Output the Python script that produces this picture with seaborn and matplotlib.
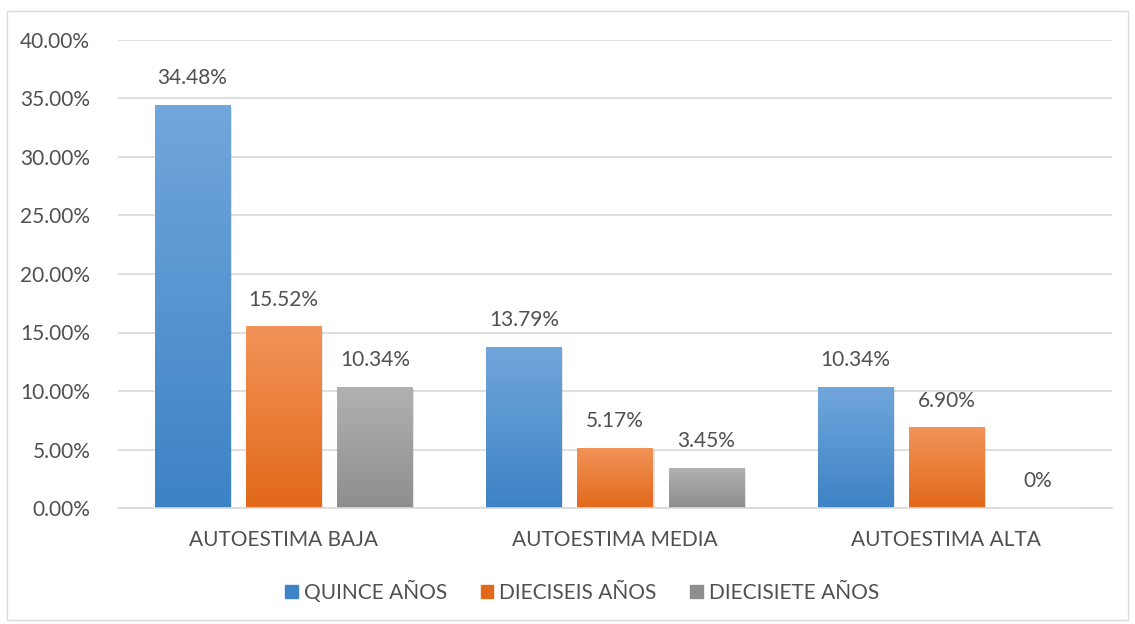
import numpy as np
import pandas as pd
import matplotlib
matplotlib.use("Agg")
import matplotlib.pyplot as plt
import seaborn as sns
from matplotlib.colors import LinearSegmentedColormap
from matplotlib.ticker import FuncFormatter, MultipleLocator

categories = ["AUTOESTIMA BAJA", "AUTOESTIMA MEDIA", "AUTOESTIMA ALTA"]
series = ["QUINCE AÑOS", "DIECISEIS AÑOS", "DIECISIETE AÑOS"]
quince = [0.3448, 0.1379, 0.1034]
dieciseis = [0.1552, 0.0517, 0.0690]
diecisiete = [0.1034, 0.0345, 0.0]
labels = [["34.48%", "13.79%", "10.34%"],
          ["15.52%", "5.17%", "6.90%"],
          ["10.34%", "3.45%", "0%"]]

# gradient ends (top, bottom) per series, Excel-like fill
grad = [("#71a6dc", "#3d83c5"), ("#f19358", "#e2691a"), ("#b1b1b1", "#8e8e8e")]

df = pd.DataFrame({
    "cat": categories * 3,
    "serie": [s for s in series for _ in categories],
    "valor": quince + dieciseis + diecisiete,
})

sns.set_theme(style="white")
plt.rcParams["font.family"] = ["Lato", "DejaVu Sans"]
text_c = "#505050"
grid_c = "#d9d9d9"
fs = 15

fig = plt.figure(figsize=(11.35, 6.24), dpi=100)
ax = fig.add_axes([118 / 1135, 1 - 508 / 624, (1112 - 118) / 1135, (508 - 40) / 624])

palette = {s: g[1] for s, g in zip(series, grad)}
sns.barplot(data=df, x="cat", y="valor", hue="serie", order=categories,
            hue_order=series, palette=palette, width=0.825, gap=0.175,
            ax=ax, legend=True, saturation=1)

ax.set_ylim(0, 0.40)
ax.set_xlim(-0.5, 2.5)
ax.yaxis.set_major_locator(MultipleLocator(0.05))
ax.yaxis.set_major_formatter(FuncFormatter(lambda v, p: f"{v * 100:.2f}%"))
ax.grid(axis="y", color=grid_c, lw=1.2)
ax.set_axisbelow(True)
for sp in ["top", "right", "left"]:
    ax.spines[sp].set_visible(False)
ax.spines["bottom"].set_color(grid_c)
ax.spines["bottom"].set_linewidth(1.2)
ax.tick_params(axis="both", length=0, labelsize=fs, colors=text_c)
ax.tick_params(axis="y", pad=20)
ax.tick_params(axis="x", pad=16)
ax.set_xlabel("")
ax.set_ylabel("")

# gradient fill on top of each bar
for i, cont in enumerate(ax.containers):
    cmap = LinearSegmentedColormap.from_list("g", [grad[i][1], grad[i][0]])
    for j, bar in enumerate(cont):
        x0, w, h = bar.get_x(), bar.get_width(), bar.get_height()
        if h > 0:
            bar.set_facecolor("none")
            bar.set_edgecolor("none")
            img = ax.imshow(np.linspace(0, 1, 64).reshape(-1, 1), cmap=cmap,
                            extent=[x0, x0 + w, 0, h], origin="lower",
                            aspect="auto", zorder=2)
            img.set_clip_path(bar)
            sh = plt.Rectangle((x0 + 0.006, 0), w, h - 0.002, color="#000000",
                               alpha=0.10, zorder=1.9, lw=0)
            ax.add_patch(sh)
        ax.annotate(labels[i][j], (x0 + w / 2, h), xytext=(0, 12),
                    textcoords="offset points", ha="center", va="bottom",
                    fontsize=fs, color=text_c)

ax.set_xlim(-0.5, 2.5)
ax.set_ylim(0, 0.40)

handles = [plt.Rectangle((0, 0), 1, 1, color=g[1]) for g in grad]
ax.legend(handles, series, loc="upper center", bbox_to_anchor=(0.467, -0.115),
          ncol=3, frameon=False, fontsize=fs, labelcolor=text_c,
          handlelength=0.6, handleheight=0.6, handletextpad=0.3,
          columnspacing=1.6)

border = plt.Rectangle((7 / 1135, 1 - 620 / 624), 1121 / 1135, 609 / 624,
                       transform=fig.transFigure, fill=False,
                       edgecolor="#d9d9d9", lw=1)
fig.patches.append(border)

fig.savefig("out.png", dpi=100)
